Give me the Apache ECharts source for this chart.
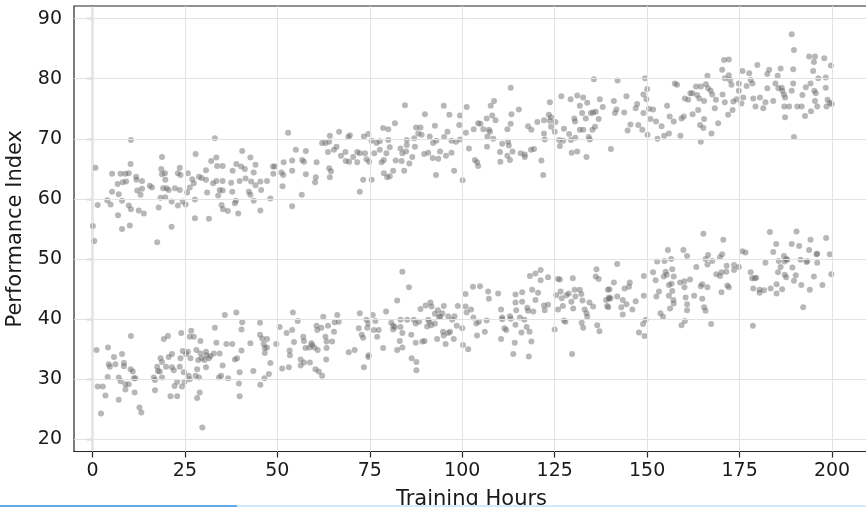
<!DOCTYPE html>
<html>
<head>
<meta charset="utf-8">
<script src="https://cdn.jsdelivr.net/npm/echarts@6/dist/echarts.min.js"></script>
<style>html,body{margin:0;padding:0;background:#fff;}#chart{width:866px;height:507px;}</style>
</head>
<body>
<div id="chart"></div>
<script>
const xTicks = [0, 25, 50, 75, 100, 125, 150, 175, 200];
const yTicks = [20, 30, 40, 50, 60, 70, 80, 90];

const upperCluster = [
[10.4,69.8],[0.8,65.2],[18.8,67.0],[10.3,65.8],[33.1,70.1],[27.9,67.5],[5.3,64.2],[7.6,64.2],[8.9,64.2],[9.8,64.3],
[11.8,63.7],[6.8,62.5],[8.2,62.8],[9.1,62.9],[11.9,63.2],[13.4,63.0],[5.3,61.2],[7.1,60.8],[12.1,61.4],[13.0,60.7],
[13.4,61.7],[15.5,62.2],[16.1,61.9],[4.0,59.8],[4.9,59.1],[1.4,59.0],[8.0,59.7],[9.8,58.9],[10.4,58.3],[12.5,58.1],
[13.9,57.6],[6.9,57.3],[0.1,55.5],[10.1,55.6],[8.0,55.0],[18.6,65.0],[18.8,64.1],[19.6,64.3],[19.7,63.2],[19.1,61.8],
[20.0,61.8],[20.6,61.5],[18.4,60.2],[19.7,60.3],[21.4,59.6],[17.9,58.6],[23.6,65.2],[23.1,64.3],[23.8,64.0],[22.3,61.8],
[23.6,61.5],[25.8,64.3],[27.0,63.3],[27.4,62.6],[26.3,61.9],[25.6,61.1],[24.4,59.6],[25.2,59.1],[23.1,58.9],[27.7,59.9],
[21.4,55.4],[27.7,56.8],[31.5,56.7],[28.8,63.7],[29.5,63.5],[30.7,63.2],[30.7,64.8],[32.1,66.3],[33.5,66.9],[33.7,65.5],
[35.2,65.5],[32.6,62.6],[33.5,63.0],[35.2,63.0],[31.0,61.1],[34.4,61.5],[35.2,61.4],[34.0,60.6],[34.9,59.0],[35.3,58.3],
[36.6,58.0],[37.5,62.7],[37.8,61.2],[37.9,64.7],[38.9,65.8],[40.5,68.0],[40.2,65.4],[41.2,65.0],[41.4,63.4],[39.8,63.0],
[42.7,66.9],[44.1,65.7],[43.6,64.4],[42.9,62.9],[44.1,62.3],[42.3,61.2],[42.7,60.7],[38.8,59.7],[38.5,59.3],[39.4,57.6],
[43.6,59.7],[45.4,58.1],[45.6,61.5],[47.2,63.0],[48.1,60.1],[48.8,65.4],[45.4,62.9],[0.5,53.0],[17.5,52.8],
[49.3,65.4],[48.9,64.2],[51.1,64.4],[51.7,66.1],[51.6,64.0],[51.4,62.1],[54.0,66.4],[54.0,64.7],[52.9,71.0],[55.0,68.2],
[56.7,66.5],[57.2,66.2],[57.7,68.0],[57.7,64.1],[56.6,60.7],[54.0,58.8],[60.6,66.1],[60.4,63.6],[60.2,62.8],[62.1,69.3],
[63.0,69.3],[64.2,70.5],[64.0,69.5],[63.7,67.8],[64.0,65.1],[64.5,64.6],[64.2,63.6],[65.3,68.2],[66.0,68.7],[66.7,71.2],
[67.2,67.2],[68.4,67.8],[68.5,66.3],[69.4,66.2],[69.2,70.3],[69.6,70.6],[70.5,67.0],[71.6,67.8],[71.6,66.1],[72.3,67.6],
[73.4,70.4],[74.6,70.8],[73.7,67.6],[74.1,66.6],[74.8,66.2],[72.3,61.2],[73.2,63.2],[75.5,63.2],[75.5,69.7],[76.8,69.3],
[77.7,69.6],[77.7,68.2],[76.2,67.6],[78.6,71.8],[80.0,71.6],[80.0,69.8],[79.5,67.6],[78.8,66.5],[78.2,66.1],[80.4,68.6],
[81.8,72.6],[82.0,66.4],[78.8,64.3],[79.7,63.6],[80.4,63.8],[81.3,64.7],[83.3,68.4],[83.8,67.6],[83.6,66.3],[84.3,64.7],
[84.5,75.6],[85.0,69.8],[85.0,69.0],[84.8,67.9],[85.7,65.9],[86.5,67.0],[87.0,70.1],[87.5,71.9],[88.7,71.9],[88.1,70.9],
[89.0,70.7],[87.2,68.7],[89.9,74.1],[89.7,67.5],[90.8,67.7],[91.2,70.4],[92.1,69.3],[92.6,72.2],[92.0,66.8],[93.0,69.7],
[93.5,66.7],[92.9,64.0],[94.0,67.9],[95.0,75.5],[95.1,70.3],[96.0,71.2],[96.5,74.0],[95.6,67.2],[97.1,67.7],[97.1,69.7],
[98.3,69.5],[97.8,64.7],[99.2,72.3],[99.4,73.9],[99.4,69.9],[100.1,63.1],[101.2,75.3],[101.0,71.0],[101.8,68.4],
[103.1,71.6],[104.3,72.6],[104.9,72.5],[103.4,66.5],[104.0,66.1],[104.3,65.5],[105.7,71.6],[106.6,73.4],[106.8,70.4],[106.7,68.7],
[107.2,71.5],[107.7,75.5],[108.6,76.3],[108.1,73.9],[109.0,73.1],[107.5,71.2],[108.4,70.0],[110.2,67.8],[110.3,66.2],[110.8,69.2],
[112.4,69.5],[112.2,71.6],[113.1,72.5],[113.3,74.1],[112.6,68.9],[112.2,67.2],[112.9,66.5],[113.6,67.9],[113.1,78.5],[115.3,74.9],
[115.8,67.6],[116.9,67.4],[116.9,67.0],[117.8,72.1],[118.7,71.5],[118.6,68.2],[119.4,68.3],[120.3,72.8],[121.4,66.4],[121.9,64.0],
[122.1,73.1],[122.1,70.9],[122.3,69.9],[123.7,76.1],[123.4,74.0],[123.7,73.0],[124.0,73.6],[124.0,72.0],[125.2,72.8],[125.0,71.2],
[126.2,69.8],[126.4,68.8],[126.8,77.1],[127.3,69.7],[127.5,71.7],[128.9,70.8],[129.3,76.6],[129.4,69.8],[129.6,67.7],[130.3,73.4],
[130.5,72.9],[130.6,70.2],[131.1,77.2],[131.1,67.9],[131.8,75.5],[131.8,71.5],[132.4,74.3],[132.7,76.9],[132.7,71.5],[133.4,73.4],
[133.6,67.0],[133.8,76.0],[134.2,70.3],[134.5,69.9],[134.8,74.3],[135.4,74.4],[135.2,71.5],[135.6,79.9],[135.9,72.0],[136.1,74.5],
[136.9,73.3],[137.2,76.6],[138.0,75.3],[140.2,68.3],[141.0,76.3],[141.3,74.3],[141.7,74.9],[142.0,79.7],[143.8,74.4],[144.4,77.1],
[144.7,71.4],[145.5,72.4],[146.9,75.1],[147.3,75.8],[147.6,72.3],[148.7,71.5],[149.0,77.4],[149.4,80.1],[149.8,76.6],[150.0,78.3],
[150.1,70.7],[150.5,75.0],[150.9,73.3],[151.6,74.9],[152.4,72.9],[152.8,70.0],[153.9,72.1],[154.6,70.5],[149.0,74.3],
[189.1,87.4],[189.7,84.8],[155.4,75.5],[156.1,73.7],[157.2,72.9],[155.9,70.9],[157.5,79.2],[158.1,79.0],[159.0,70.5],[159.3,73.4],
[159.9,73.7],[160.2,76.7],[161.1,76.5],[161.7,77.6],[162.2,77.6],[162.3,74.1],[163.2,78.7],[163.5,77.3],[164.1,76.7],[163.8,74.8],
[164.3,72.3],[164.5,78.7],[165.2,71.8],[165.4,73.3],[165.4,76.3],[164.5,69.5],[165.9,79.1],[166.3,80.5],[166.5,78.4],[167.2,78.0],
[167.6,77.4],[167.4,70.9],[168.3,75.1],[168.6,76.5],[169.2,72.6],[170.3,81.5],[170.8,83.1],[172.1,83.2],[171.0,80.1],[170.4,77.4],
[171.0,76.1],[171.9,74.0],[172.1,80.6],[172.4,79.8],[172.8,79.0],[173.3,76.2],[173.1,74.8],[174.2,76.6],[174.8,79.2],[174.8,78.0],
[175.5,75.9],[175.8,81.3],[176.0,76.9],[176.9,78.8],[177.6,80.9],[178.0,79.8],[178.5,79.2],[178.7,76.7],[179.3,75.4],[179.8,82.3],
[180.5,76.9],[181.4,75.1],[182.0,76.1],[182.5,78.4],[182.5,80.8],[183.0,81.5],[184.1,76.3],[184.7,79.2],[185.3,80.5],[185.5,78.4],
[186.1,81.7],[186.4,78.5],[186.6,78.0],[187.0,77.4],[187.3,76.9],[187.1,75.4],[187.3,73.6],[188.4,75.4],[189.1,78.0],[189.5,81.6],
[189.5,79.2],[189.7,70.3],[190.6,75.4],[191.8,75.4],[192.0,77.3],[192.7,73.8],[192.9,78.6],[193.8,83.7],[194.3,74.6],[194.2,79.2],
[194.9,81.3],[195.1,82.8],[195.4,83.7],[195.2,78.0],[195.6,77.6],[195.4,76.3],[196.0,75.4],[196.3,80.1],[197.9,83.4],[198.3,80.2],
[198.3,78.5],[198.5,75.4],[198.8,76.5],[199.4,76.0],[199.7,82.2],[199.9,75.8]
];

const lowerCluster = [
[1.1,34.9],[4.2,35.3],[5.8,33.7],[8.0,34.2],[4.4,32.5],[4.7,32.1],[6.2,32.5],[8.5,32.7],[8.5,32.2],[10.3,31.7],
[10.9,31.3],[10.4,37.2],[4.1,30.4],[7.1,30.3],[7.6,29.7],[8.9,29.2],[9.8,29.2],[11.2,30.2],[11.6,30.2],[8.9,28.3],
[11.4,27.8],[1.4,28.8],[2.8,28.8],[3.5,27.3],[7.1,26.6],[2.3,24.3],[12.7,25.3],[13.2,24.5],[16.6,30.3],[16.9,29.9],
[16.9,28.2],[17.5,32.1],[17.7,31.4],[18.2,31.3],[18.8,30.3],[18.4,33.5],[18.8,32.9],[19.3,36.7],[20.4,37.2],[19.9,32.1],
[20.6,33.7],[21.5,34.2],[21.5,32.0],[22.0,31.5],[22.2,28.9],[22.9,29.6],[21.1,27.2],[22.9,27.2],[23.6,32.1],[23.8,33.5],
[24.0,37.7],[24.4,34.7],[24.7,31.2],[24.2,28.8],[24.9,29.6],[25.3,34.2],[25.8,34.6],[26.0,30.6],[26.3,30.0],[26.3,37.1],
[26.7,38.1],[27.4,37.1],[26.5,33.5],[27.9,30.6],[28.1,34.9],[28.3,31.7],[28.8,30.3],[28.3,26.9],[29.0,27.8],[29.2,36.4],
[29.2,34.3],[29.7,22.0],[28.6,33.2],[29.5,33.5],[30.3,33.2],[30.7,34.6],[30.8,34.0],[30.7,32.0],[31.5,33.5],[31.9,33.9],
[32.8,34.3],[33.1,38.6],[33.5,36.1],[34.4,34.3],[34.2,30.3],[34.8,30.6],[35.2,32.3],[35.8,40.7],[36.2,35.9],[36.7,30.2],
[37.8,35.9],[38.9,41.1],[38.5,33.3],[39.1,33.5],[39.6,29.3],[39.8,27.2],[39.8,31.2],[40.3,34.8],[40.3,38.3],[40.5,39.5],
[42.7,36.0],[43.5,31.4],[45.3,39.4],[45.3,37.4],[45.9,36.8],[46.3,35.9],[46.6,35.2],[46.6,34.4],[47.2,36.7],[47.2,35.3],
[45.4,29.1],[46.5,30.2],[47.7,30.9],[48.1,32.7],[49.7,35.9],[50.6,38.7],[51.3,31.8],[52.5,37.7],[53.1,32.0],[53.3,34.8],
[53.4,34.0],[54.0,38.2],[54.2,41.1],[54.5,36.2],[55.5,39.7],[56.3,33.3],[56.3,32.3],[57.0,37.1],[57.2,36.4],[57.2,32.8],
[57.6,35.2],[58.7,35.3],[58.8,32.8],[59.2,36.0],[59.4,35.7],[60.0,35.3],[60.3,31.7],[60.8,38.2],[60.6,38.9],[60.9,34.9],
[61.2,31.3],[62.1,30.6],[61.9,38.6],[62.4,40.4],[63.0,37.1],[63.3,36.3],[63.3,35.2],[63.2,33.3],[63.7,38.9],[64.8,36.3],
[65.3,37.9],[65.5,39.5],[66.2,40.7],
[66.6,39.6],[72.3,41.0],[72.0,38.5],[72.8,37.4],[73.2,36.9],[69.3,34.5],[70.9,34.9],[73.4,32.0],[74.7,34.0],[74.6,33.7],
[74.1,39.9],[74.6,39.3],[74.3,38.6],[75.8,40.7],[76.5,39.7],[76.1,38.2],[77.4,38.2],[77.0,37.1],[78.6,35.2],[79.4,41.3],
[80.8,39.4],[81.3,38.9],[81.3,38.3],[81.8,38.7],[82.4,43.1],[83.3,39.9],[83.3,38.7],[83.8,47.9],[83.1,36.4],[83.8,37.7],
[83.8,35.3],[82.4,34.9],[85.1,39.9],[85.6,45.3],[86.2,37.4],[86.3,33.5],[86.9,39.9],[87.4,39.3],[87.6,32.9],[87.6,31.5],
[87.4,36.1],[88.3,39.6],[88.7,41.7],[89.2,36.3],[89.8,36.4],[90.1,42.3],[90.5,38.8],[90.8,39.9],[91.1,39.6],[91.4,42.8],
[91.7,42.1],[91.6,39.0],[92.6,40.9],[92.6,39.3],[93.2,36.7],[93.4,41.5],[93.7,40.4],[94.1,40.4],[94.6,41.0],[94.8,37.9],
[95.0,42.2],[95.0,37.3],[95.5,35.9],[96.2,40.5],[96.2,37.7],[96.7,37.9],[97.3,39.9],[97.9,40.5],[97.7,36.7],[98.5,38.9],
[98.8,42.2],[100.0,38.5],[100.2,35.7],[100.9,44.2],[100.9,42.1],[101.2,41.1],[101.6,35.0],[102.4,41.6],[102.9,45.4],[103.0,40.3],
[103.8,39.3],[104.0,37.3],[104.5,39.6],[104.8,45.5],[106.1,37.9],[106.6,39.8],[107.0,44.6],[107.2,43.4],[109.7,44.3],[110.5,41.6],
[110.8,40.3],[110.8,40.0],[110.5,36.7],[111.4,38.5],[111.9,38.2],[112.9,40.5],[113.1,40.1],[113.8,34.2],[114.2,36.1],[114.4,44.1],
[114.4,42.8],[114.6,41.5],[114.4,39.1],[115.6,40.3],[116.0,37.8],[116.2,44.5],[116.2,42.9],[116.8,39.9],[117.4,38.7],[117.6,41.9],
[117.8,41.4],[118.0,33.8],[118.2,37.9],[118.3,47.2],[118.7,36.3],[118.9,44.9],[119.2,41.3],[119.8,47.6],[119.8,43.2],[120.5,44.4],
[121.2,48.2],[121.2,46.5],[122.1,42.3],[122.3,41.5],[123.2,47.0],[123.2,42.4],[125.0,38.3],[125.4,44.0],[125.9,46.7],[126.4,46.6],
[125.9,41.6],[126.6,44.6],[126.9,43.5],[127.2,42.2],[127.5,39.8],[127.9,39.6],[128.2,44.0],[128.8,44.3],[129.5,42.9],[129.7,34.2],
[129.9,46.8],[130.0,41.8],[130.4,44.9],[130.6,43.8],[131.8,44.9],[132.2,44.2],[132.5,43.1],[132.3,39.4],[132.7,38.6],[133.1,41.6],
[133.6,41.0],[133.8,40.4],[134.4,42.8],[135.4,42.1],[136.1,47.1],[136.3,48.3],
[136.9,46.7],[136.5,39.0],[137.1,38.0],[139.4,44.9],[139.8,45.0],[138.9,43.2],[139.7,43.6],[139.7,43.4],[140.1,43.5],[139.2,42.2],
[139.5,42.0],[141.0,46.1],[141.9,49.2],[141.9,43.8],[143.0,42.0],[143.4,43.2],[143.4,40.8],[143.9,45.1],[144.4,42.5],[145.1,45.4],
[145.3,46.1],[146.0,41.6],[146.9,43.0],[147.8,37.8],[148.9,39.2],[149.1,43.9],[149.1,47.2],[149.3,37.2],[149.6,39.9],[151.6,47.8],
[152.3,46.5],[152.5,43.8],[152.7,49.6],[153.2,44.6],[153.6,41.0],[154.3,40.4],[154.5,47.1],[154.7,49.7],[155.0,47.9],[155.3,47.4],
[155.6,51.5],[155.9,45.7],[155.9,43.9],[156.2,41.8],[156.5,50.0],[156.6,45.9],[156.8,48.3],[156.8,44.7],[157.2,47.1],[157.1,43.2],
[157.2,42.6],[159.3,39.0],[158.9,46.1],[159.8,51.5],[160.1,46.3],[160.1,45.3],[160.2,39.7],[160.4,43.6],[160.8,50.5],[160.8,42.5],
[160.8,41.5],[161.6,46.6],[162.7,43.9],[163.3,48.7],[164.5,45.5],[164.9,45.8],[164.9,43.4],[165.4,42.0],[165.8,41.4],[165.2,54.2],
[166.3,45.3],[165.8,50.0],[166.5,50.7],[166.3,49.1],[167.3,39.2],[167.6,49.7],[168.7,47.5],[169.7,47.2],[169.7,50.3],[170.3,50.8],
[170.1,47.8],[170.1,44.5],[170.6,53.2],[171.4,47.9],[171.5,48.9],[171.7,45.6],[172.1,45.3],[173.5,49.0],[173.5,48.2],[174.8,48.7],
[175.7,51.3],[176.6,51.1],[178.0,47.8],[178.4,46.8],[179.1,46.8],[179.5,46.9],[178.7,45.1],[178.6,38.9],[180.4,44.9],[180.4,44.4],
[181.6,44.8],[182.0,49.4],[183.2,54.5],[183.4,45.1],[184.1,51.2],[184.9,52.5],[185.0,45.8],[185.0,44.3],[185.4,47.8],[185.6,49.7],
[186.1,48.7],[186.5,45.0],[187.0,50.5],[187.2,49.6],[187.2,47.4],[187.6,50.0],[187.6,47.0],[187.9,49.9],[189.1,52.5],[189.3,48.6],
[189.7,46.4],[190.2,47.3],[190.4,54.6],[191.1,52.2],[191.5,49.9],[191.7,45.7],[192.2,42.0],[193.1,49.5],[193.3,49.7],[193.8,51.5],
[194.2,53.2],[194.0,44.9],[195.1,47.1],[195.8,50.8],[196.0,49.4],[196.0,50.9],[197.4,45.7],[198.4,53.5],[199.4,50.8],[199.8,47.5]
];

const font = 'DejaVu Sans';
const chart = echarts.init(document.getElementById('chart'), null, {renderer: 'canvas'});
const pointStyle = {color: 'rgba(105,105,105,0.6)'};
const gridLineStyle = {color: '#e3e3e3', width: 1, type: 'solid'};

chart.setOption({
  animation: false,
  backgroundColor: '#ffffff',
  grid: {left: 74, top: 6, width: 795, height: 445.5, containLabel: false, outerBoundsMode: 'none',
         show: true, borderColor: '#262626', borderWidth: 1.2, backgroundColor: 'transparent'},
  xAxis: {
    type: 'value', min: -5, max: 210,
    name: 'Training Hours', nameLocation: 'middle', nameGap: 38,
    nameTextStyle: {fontFamily: font, fontSize: 21, color: '#1a1a1a'},
    axisLine: {show: true, lineStyle: {color: '#262626', width: 1.2}},
    axisTick: {show: true, length: 6, inside: false, customValues: xTicks, lineStyle: {color: '#262626', width: 1.2}},
    axisLabel: {customValues: xTicks, fontFamily: font, fontSize: 19, color: '#1a1a1a', margin: 10},
    splitLine: {show: false}
  },
  yAxis: {
    type: 'value', min: 18, max: 92.1,
    name: 'Performance Index', nameLocation: 'middle', nameGap: 48,
    nameTextStyle: {fontFamily: font, fontSize: 21, color: '#1a1a1a'},
    axisLine: {show: true, lineStyle: {color: '#262626', width: 1.2}},
    axisTick: {show: true, length: 6, inside: false, customValues: yTicks, lineStyle: {color: '#262626', width: 1.2}},
    axisLabel: {customValues: yTicks, fontFamily: font, fontSize: 19, color: '#1a1a1a', margin: 12},
    splitLine: {show: false}
  },
  series: [
    {
      type: 'scatter', data: [], z: 1, silent: true,
      markLine: {
        silent: true, symbol: 'none', label: {show: false}, animation: false,
        lineStyle: gridLineStyle,
        data: xTicks.map(v => ({xAxis: v})).concat(yTicks.map(v => ({yAxis: v})))
      }
    },
    {type: 'scatter', data: upperCluster, symbolSize: 6, itemStyle: pointStyle, z: 3},
    {type: 'scatter', data: lowerCluster, symbolSize: 6, itemStyle: pointStyle, z: 3}
  ],
  graphic: [
    {type: 'rect', left: 0, top: 505, shape: {width: 866, height: 2}, style: {fill: '#d6e9f8'}, z: 100},
    {type: 'rect', left: 0, top: 505, shape: {width: 237, height: 2}, style: {fill: '#62a9e6'}, z: 101}
  ]
});
</script>
</body>
</html>
